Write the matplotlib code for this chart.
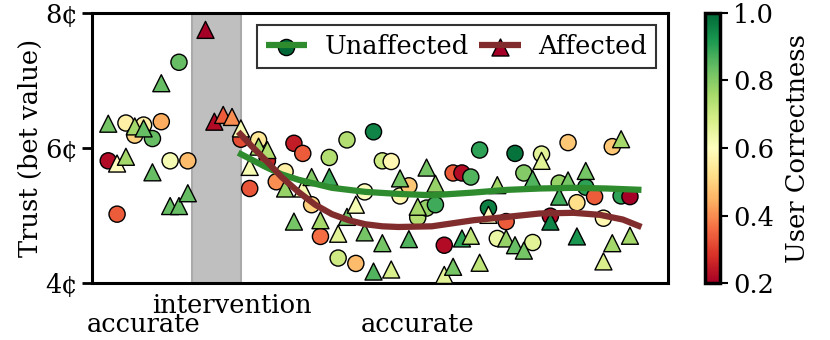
import matplotlib
matplotlib.use("Agg")
import matplotlib.pyplot as plt
from matplotlib.colors import Normalize

plt.rcParams["font.family"] = ["DejaVu Serif"]
plt.rcParams["font.size"] = 18.5

# unaffected users (circles): round, bet value (cents), user correctness
circ_x = [0, 1, 2, 3, 4, 5, 6, 7, 8, 9,
          15, 16, 17, 18, 19, 20, 21, 22, 23, 24, 25, 26, 27, 28, 29, 30, 31, 32, 33, 34,
          35, 36, 37, 38, 39, 40, 41, 42, 43, 44, 45, 46, 47, 48, 49, 50, 51, 52, 53, 54,
          55, 56, 57, 58, 59]
circ_y = [5.81, 5.02, 6.37, 6.19, 6.34, 6.14, 6.39, 5.81, 7.27, 5.81,
          6.13, 5.40, 6.12, 5.81, 5.50, 5.65, 6.07, 5.92, 5.16, 4.69, 5.86, 4.37, 6.12, 4.29,
          5.35, 6.24, 5.81, 5.80, 5.29, 5.44,
          4.97, 5.11, 5.16, 4.56, 5.63, 5.63, 5.57, 5.97, 5.11, 4.66, 4.91, 5.92, 5.63, 4.60,
          5.91, 4.99, 5.48, 6.08, 5.19, 5.42,
          5.28, 4.96, 6.02, 5.29, 5.28]
circ_c = [0.22, 0.34, 0.56, 0.50, 0.56, 0.84, 0.44, 0.62, 0.84, 0.46,
          0.32, 0.33, 0.54, 0.26, 0.40, 0.56, 0.25, 0.34, 0.50, 0.36, 0.74, 0.70, 0.74, 0.46,
          0.60, 0.95, 0.70, 0.58, 0.58, 0.48,
          0.74, 0.78, 0.88, 0.22, 0.34, 0.22, 0.86, 0.90, 0.96, 0.64, 0.34, 0.98, 0.80, 0.66,
          0.66, 0.22, 0.78, 0.48, 0.52, 0.90,
          0.34, 0.58, 0.48, 0.90, 0.20]

# affected users (triangles)
tri_x = [0, 1, 2, 3, 4, 5, 6, 7, 8, 9,
         11, 12, 13, 14, 15, 16, 17, 18, 20, 21, 22, 23, 24, 25, 26, 27, 28, 29, 30, 31,
         32, 33, 34, 35, 36, 37, 38, 39, 40, 41, 42, 43, 44, 45, 46, 47, 48, 49, 50, 51,
         52, 53, 54, 56, 57, 58, 59]
tri_y = [6.36, 5.77, 5.87, 6.32, 6.29, 5.64, 6.96, 5.14, 5.14, 5.33,
         7.75, 6.39, 6.49, 6.46, 6.29, 5.72, 6.02, 5.97, 5.40, 4.91, 5.40, 5.57, 4.93, 5.57,
         4.73, 4.98, 5.16, 4.75, 4.17, 4.59,
         4.20, 5.55, 4.65, 5.13, 5.71, 5.47, 4.12, 4.24, 4.66, 4.70, 4.30, 5.01, 5.45, 4.66,
         4.56, 4.48, 5.54, 5.81, 4.91, 5.28,
         5.52, 4.69, 5.66, 4.32, 4.59, 6.13, 4.70]
tri_c = [0.82, 0.60, 0.76, 0.76, 0.84, 0.84, 0.84, 0.84, 0.84, 0.84,
         0.20, 0.22, 0.34, 0.40, 0.62, 0.62, 0.76, 0.74, 0.78, 0.82, 0.62, 0.80, 0.76, 0.88,
         0.66, 0.82, 0.62, 0.82, 0.86, 0.82,
         0.68, 0.82, 0.86, 0.76, 0.82, 0.78, 0.66, 0.82, 0.90, 0.72, 0.72, 0.60, 0.76, 0.78,
         0.84, 0.82, 0.86, 0.66, 0.95, 0.88,
         0.82, 0.92, 0.82, 0.68, 0.76, 0.76, 0.76]

# smoothed trends
green_x = [14.7, 17.8, 19.6, 21.5, 25.3, 29.1, 32.8, 36.6, 41.3, 45.1, 48.8, 52.6, 56.4, 60.3]
green_y = [5.93, 5.72, 5.61, 5.53, 5.41, 5.35, 5.32, 5.30, 5.34, 5.38, 5.40, 5.41, 5.40, 5.38]
red_x = [14.7, 16.2, 17.8, 19.6, 21.5, 23.4, 25.3, 27.2, 29.1, 31.0, 32.8, 36.6, 41.3,
         45.1, 48.8, 52.6, 55.6, 58.2, 60.3]
red_y = [6.24, 6.03, 5.82, 5.57, 5.35, 5.16, 5.02, 4.93, 4.87, 4.84, 4.83, 4.84, 4.93,
         4.98, 5.03, 5.04, 5.01, 4.94, 4.83]

band = (9.45, 15.0)
xtick_pos = [4, 35]
xtick_lab = ["accurate", "accurate"]
mid_pos = [14]
mid_lab = ["intervention"]
yticks = [4, 6, 8]

cmap = plt.get_cmap("RdYlGn")
norm = Normalize(0.2, 1.0)

fig = plt.figure(figsize=(8.3, 3.4), dpi=100)
ax = fig.add_axes([0.1108, 0.1676, 0.694, 0.7942])
cax = fig.add_axes([0.8494, 0.1676, 0.018, 0.7942])

ax.axvspan(*band, facecolor="#bfbfbf", edgecolor="#aaaaaa", lw=1.5, zorder=0)
ax.scatter(circ_x, circ_y, c=circ_c, cmap=cmap, norm=norm, marker="o", s=135,
           edgecolors="black", linewidths=1.0, zorder=2)
sc = ax.scatter(tri_x, tri_y, c=tri_c, cmap=cmap, norm=norm, marker="^", s=150,
                edgecolors="black", linewidths=1.0, zorder=3)
g_line, = ax.plot(green_x, green_y, color="#2e8b2e", lw=4.5, solid_capstyle="butt",
                  solid_joinstyle="round", zorder=4)
r_line, = ax.plot(red_x, red_y, color="#812d2d", lw=4.5, solid_capstyle="butt",
                  solid_joinstyle="round", zorder=4)

ax.set_xlim(-1.84, 63.3)
ax.set_ylim(4, 8)
ax.set_yticks(yticks)
ax.set_yticklabels([f"{v}¢" for v in yticks])
ax.set_xticks(xtick_pos)
ax.set_xticklabels(xtick_lab)
ax.set_xticks(mid_pos, minor=True)
ax.set_xticklabels(mid_lab, minor=True)
ax.tick_params(axis="x", which="major", length=0, pad=21)
ax.tick_params(axis="x", which="minor", length=0, pad=7)
ax.tick_params(axis="y", length=7, width=2, pad=3)
ax.set_ylabel("Trust (bet value)", labelpad=2)
for s in ax.spines.values():
    s.set_linewidth(2.2)

cm_o = ax.scatter([], [], marker="o", s=135, color=cmap(norm(1.0)), edgecolors="black", linewidths=1.0)
cm_t = ax.scatter([], [], marker="^", s=150, color=cmap(norm(0.2)), edgecolors="black", linewidths=1.0)
leg = ax.legend([(cm_o, g_line), (cm_t, r_line)], ["Unaffected", "Affected"], ncol=2,
                loc="upper right", fancybox=False, framealpha=1, edgecolor="#333333",
                handlelength=1.6, handletextpad=0.7, columnspacing=0.4, borderpad=0.35,
                borderaxespad=0.45)
leg.get_frame().set_linewidth(1.5)
leg.set_zorder(10)

cb = fig.colorbar(sc, cax=cax)
cb.set_ticks([0.2, 0.4, 0.6, 0.8, 1.0])
cb.outline.set_linewidth(2.5)
cb.ax.tick_params(length=6, width=1.5)
cb.set_label("User Correctness", labelpad=8)

fig.savefig("out.png", dpi=100)
